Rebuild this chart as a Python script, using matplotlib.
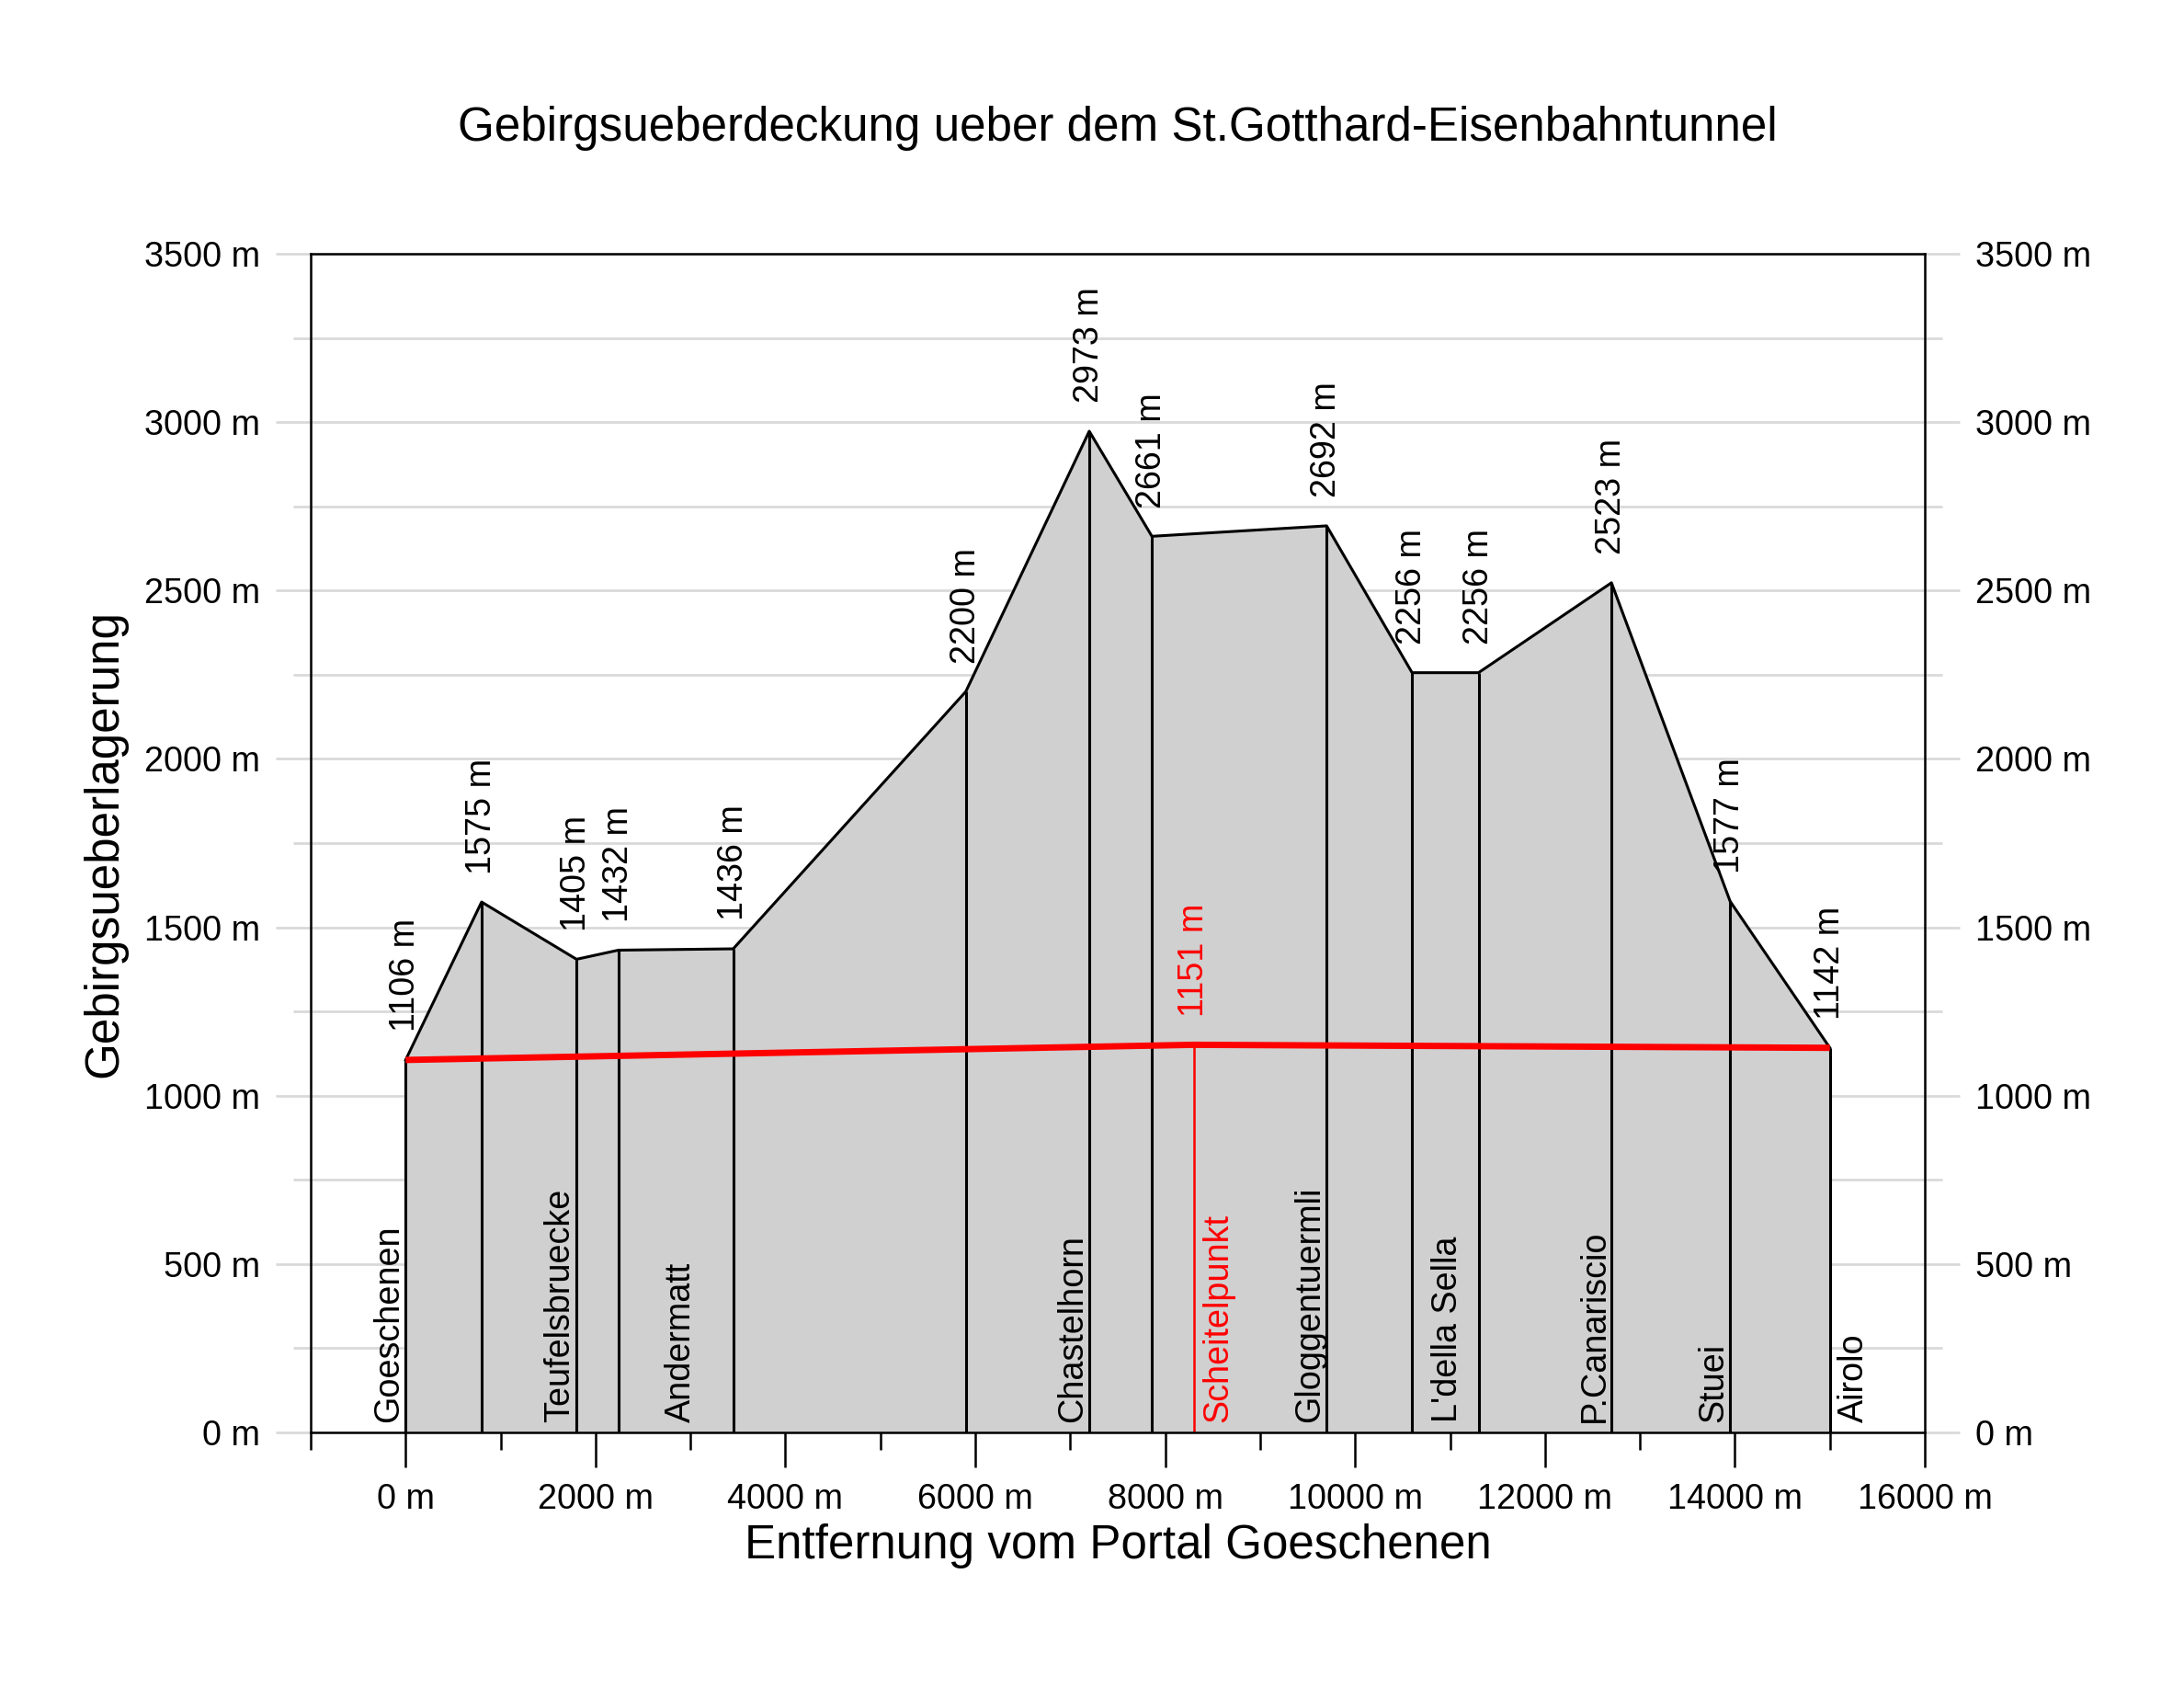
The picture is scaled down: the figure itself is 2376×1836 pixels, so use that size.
import numpy as np
import matplotlib
matplotlib.use("Agg")
import matplotlib.pyplot as plt
from matplotlib.ticker import MultipleLocator, FuncFormatter

# --- DATEN ---
# Stationen entlang des Tunnels (Entfernung vom Portal Goeschenen, Gebirgshoehe)
station_x = [0, 800, 1800, 2240, 3450, 5900, 7200, 7860, 9700, 10600, 11300, 12700, 13950, 15000]
station_h = [1106, 1575, 1405, 1432, 1436, 2200, 2973, 2661, 2692, 2256, 2256, 2523, 1577, 1142]

# Tunnelachse (rote Linie)
tunnel_x = [0, 8300, 15000]
tunnel_h = [1106, 1151, 1142]
scheitel_x = 8300
scheitel_h = 1151

# Ortsnamen unten im Profil: Name, Anker (m), Ausrichtung
place_names = ["Goeschenen", "Teufelsbruecke", "Andermatt", "Chastelhorn",
               "Gloggentuermli", "L'della Sella", "P.Canariscio", "Stuei", "Airolo"]
place_x = [0, 1800, 2900, 7200, 9700, 10980, 12700, 13950, 15000]
place_ha = ["right", "right", "center", "right", "right", "center", "right", "right", "left"]

# --- STIL ---
plt.rcParams['font.family'] = ['Liberation Sans', 'DejaVu Sans']
GRID = '#d9d9d9'
FILL = '#d0d0d0'
FS_SMALL = 13.6
FS_BIG = 18.4
SHIFT = {"left": 3, "right": 0, "center": 0}

fig = plt.figure(figsize=(11.88, 9.18), dpi=200)
ax = fig.add_axes([338 / 2376, 1 - 1558 / 1836, (2094 - 338) / 2376, (1558 - 276) / 1836])

# Profil
px = [station_x[0]] + station_x + [station_x[-1]]
ph = [0] + station_h + [0]
ax.fill(px, ph, facecolor=FILL, edgecolor='none', zorder=2)
ax.plot(station_x, station_h, color='black', lw=1.1, zorder=3)
ax.vlines(station_x, 0, station_h, color='black', lw=1.1, zorder=3)

# Tunnel
ax.plot(tunnel_x, tunnel_h, color='#ff0000', lw=2.5, solid_capstyle='butt', zorder=5)
ax.vlines(scheitel_x, 0, scheitel_h, color='#ff0000', lw=0.9, zorder=4)

# Hoehenangaben
for x, h in zip(station_x, station_h):
    ax.annotate(f"{h} m", (x, h), xytext=(0, 11), textcoords='offset points',
                rotation=90, ha='center', va='bottom', fontsize=FS_SMALL, zorder=6)
ax.annotate(f"{scheitel_h} m", (scheitel_x, scheitel_h), xytext=(0, 11),
            textcoords='offset points', rotation=90, ha='center', va='bottom',
            fontsize=FS_SMALL, color='#ff0000', zorder=6)

# Ortsnamen
for name, x, ha in zip(place_names, place_x, place_ha):
    ax.annotate(name, (x, 0), xytext=(SHIFT[ha], 4), textcoords='offset points',
                rotation=90, ha=ha, va='bottom', fontsize=FS_SMALL, zorder=6)
ax.annotate("Scheitelpunkt", (scheitel_x, 0), xytext=(SHIFT["left"], 4), textcoords='offset points',
            rotation=90, ha='left', va='bottom', fontsize=FS_SMALL, color='#ff0000', zorder=6)

# Achsen
ax.set_xlim(-1000, 16000)
ax.set_ylim(0, 3500)
meter_fmt = FuncFormatter(lambda v, p: f"{int(v)} m")

ax.xaxis.set_major_locator(MultipleLocator(2000))
ax.xaxis.set_minor_locator(MultipleLocator(1000))
ax.xaxis.set_major_formatter(meter_fmt)
ax.tick_params(axis='x', which='major', direction='out', length=13.7, width=0.9,
               color='black', labelsize=FS_SMALL, pad=6)
ax.tick_params(axis='x', which='minor', direction='out', length=6.8, width=0.9, color='black')

ax.yaxis.set_major_locator(MultipleLocator(500))
ax.yaxis.set_minor_locator(MultipleLocator(250))
ax.yaxis.set_major_formatter(meter_fmt)
ax.tick_params(axis='y', which='major', direction='out', length=13.7, width=1.0,
               color=GRID, labelsize=FS_SMALL, pad=6, left=True, right=True,
               labelleft=True, labelright=True)
ax.tick_params(axis='y', which='minor', direction='out', length=6.8, width=1.0,
               color=GRID, left=True, right=True)

ax.grid(axis='y', which='both', color=GRID, lw=1.0, zorder=0)
ax.set_axisbelow(True)
for sp in ax.spines.values():
    sp.set_linewidth(0.9)
    sp.set_zorder(7)

fig.text(1216 / 2376, 1 - 139 / 1836, "Gebirgsueberdeckung ueber dem St.Gotthard-Eisenbahntunnel",
         ha='center', va='center', fontsize=FS_BIG)
fig.text(1216 / 2376, 1 - 1681 / 1836, "Entfernung vom Portal Goeschenen",
         ha='center', va='center', fontsize=FS_BIG)
fig.text(114 / 2376, 1 - 917 / 1836, "Gebirgsueberlagerung",
         ha='center', va='center', rotation=90, fontsize=FS_BIG)

fig.savefig("out.png", dpi=200, facecolor='white')
